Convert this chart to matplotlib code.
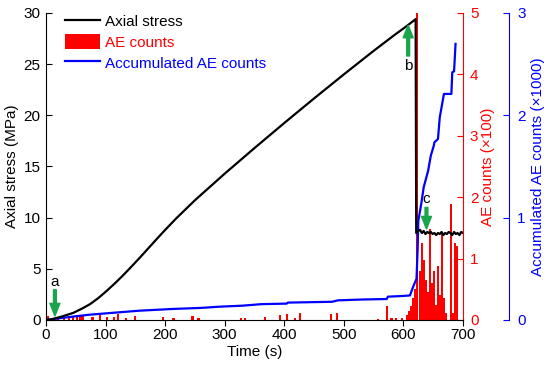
import matplotlib
matplotlib.use('Agg')
import matplotlib.pyplot as plt

plt.rcParams['font.family'] = ['Liberation Sans', 'DejaVu Sans']
plt.rcParams['font.size'] = 11

# axial stress (MPa) vs time (s)
stress_t = [0, 10, 18, 30, 46, 60, 74, 88, 102, 116, 130, 144, 158, 172, 186, 200, 219,
            250, 300, 350, 400, 450, 500, 550, 585, 605, 620.5,
            621.5, 625, 628, 631, 634, 637, 640, 643, 646, 649, 652, 655, 658, 661,
            664, 667, 670, 673, 676, 679, 682, 685, 688, 691, 694, 697, 700]
stress = [0, 0.08, 0.2, 0.4, 0.7, 1.1, 1.55, 2.15, 2.85, 3.6, 4.4, 5.25, 6.12, 7.02, 7.92, 8.8, 9.95,
          11.7, 14.3, 16.8, 19.25, 21.65, 24.0, 26.3, 27.85, 28.7, 29.4,
          8.5, 8.7, 8.8, 8.5, 8.7, 8.4, 8.6, 8.5, 8.6, 8.4, 8.5, 8.3, 8.5, 8.4,
          8.6, 8.3, 8.5, 8.4, 8.6, 8.5, 8.3, 8.6, 8.4, 8.5, 8.3, 8.6, 8.5]

# AE counts per interval
ae_t = [3, 20, 30, 38, 45, 52, 58, 62, 78, 91, 102, 114, 121, 135, 150, 197, 214, 246, 256,
        328, 334, 367, 393, 405, 418, 426, 478, 489, 557, 573, 580, 588, 597, 606,
        610, 613, 616, 619, 622.5, 627.5, 631, 635, 638.6, 641.5, 645, 648, 651, 654, 658,
        661, 665, 668, 671, 680, 683, 686, 689]
ae_counts = [7, 4, 5, 4, 5, 6, 8, 8, 5, 8, 5, 5, 9, 4, 7, 5, 4, 7, 4,
             3, 3, 5, 8, 9, 4, 11, 9, 12, 2, 22, 4, 4, 4, 8,
             14, 22, 36, 50, 500, 80, 125, 97, 65, 45, 148, 61, 80, 25, 88,
             40, 141, 36, 12, 189, 11, 125, 120]

# accumulated AE counts
acc_t = [0, 20, 45, 70, 101, 157, 213, 260, 291, 330, 362, 404, 406, 480, 490, 530, 572, 574,
         600, 611, 616, 622, 624, 625, 630, 634, 641.5, 646, 651, 652, 658, 661, 668, 680.5,
         682, 685, 687.5]
acc = [0, 15, 33, 50, 65, 91, 108, 118, 130, 140, 155, 160, 170, 178, 192, 200, 205, 228,
       235, 240, 320, 403, 710, 970, 1137, 1296, 1459, 1606, 1704, 1736, 1769, 1980, 2209, 2209,
       2420, 2430, 2698]

green = '#19a54b'

fig = plt.figure(figsize=(5.5, 3.65), dpi=100)
ax = fig.add_axes([0.0836, 0.1233, 0.7582, 0.8411])
ax_ae = ax.twinx()
ax_acc = ax.twinx()

ax_ae.bar(ae_t, [c / 100 for c in ae_counts], width=3.6, color='red', linewidth=0, label='AE counts')
ax_acc.plot(acc_t, [a / 1000 for a in acc], color='blue', lw=1.6, label='Accumulated AE counts')
ax.plot(stress_t, stress, color='black', lw=1.6, label='Axial stress')

# layering: bars below, blue next, stress on top
ax_ae.set_zorder(1)
ax_acc.set_zorder(2)
ax.set_zorder(3)
for a in (ax, ax_ae, ax_acc):
    a.patch.set_visible(False)

ax.set_xlim(0, 700)
ax.set_ylim(0, 30)
ax_ae.set_ylim(0, 5)
ax_acc.set_ylim(0, 3)
ax.set_xticks(range(0, 701, 100))
ax.set_yticks(range(0, 31, 5))
ax_ae.set_yticks(range(0, 6))
ax_acc.set_yticks(range(0, 4))

ax.spines['top'].set_visible(False)
ax.spines['right'].set_visible(False)
for a in (ax_ae, ax_acc):
    for s in ('top', 'left', 'bottom'):
        a.spines[s].set_visible(False)
ax_ae.spines['right'].set_color('red')
ax_acc.spines['right'].set_color('blue')
ax_acc.spines['right'].set_position(('outward', 33))  # points, ~46 px

ax.tick_params(axis='y', direction='in', length=4, pad=4)
ax.tick_params(axis='x', direction='out', length=4, pad=2)
ax_ae.tick_params(axis='y', direction='in', length=4, pad=5, colors='red')
ax_acc.tick_params(axis='y', direction='in', length=4, pad=6, colors='blue')

ax.set_xlabel('Time (s)', labelpad=2)
ax.set_ylabel('Axial stress (MPa)', labelpad=3)
ax_ae.set_ylabel('AE counts (\u00d7100)', color='red', labelpad=2)
ax_acc.set_ylabel('Accumulated AE counts (\u00d71000)', color='blue', labelpad=4)

# legend
h1, l1 = ax.get_legend_handles_labels()
h2, l2 = ax_ae.get_legend_handles_labels()
h3, l3 = ax_acc.get_legend_handles_labels()
leg = ax.legend(h1 + h2 + h3, l1 + l2 + l3, loc='upper left', bbox_to_anchor=(0.045, 0.997),
                frameon=False, borderaxespad=0, borderpad=0, handlelength=2.3,
                handleheight=1.1, handletextpad=0.35, labelspacing=0.33)
for txt, c in zip(leg.get_texts(), ['black', 'red', 'blue']):
    txt.set_color(c)

# green arrows with labels a, b, c
arrow = dict(arrowstyle='simple,head_length=0.75,head_width=0.6,tail_width=0.17',
             color=green, mutation_scale=12, shrinkA=0, shrinkB=0)
ax.annotate('', xy=(15, 0.4), xytext=(15, 2.95), arrowprops=arrow)
ax.text(15, 3.7, 'a', ha='center', va='center')
ax.annotate('', xy=(608, 28.8), xytext=(608, 25.8), arrowprops=arrow)
ax.text(608, 24.8, 'b', ha='center', va='center')
ax.annotate('', xy=(638.7, 8.9), xytext=(638.7, 11.0), arrowprops=arrow)
ax.text(638.7, 11.8, 'c', ha='center', va='center')

fig.savefig('out.png', dpi=100, facecolor='white')
